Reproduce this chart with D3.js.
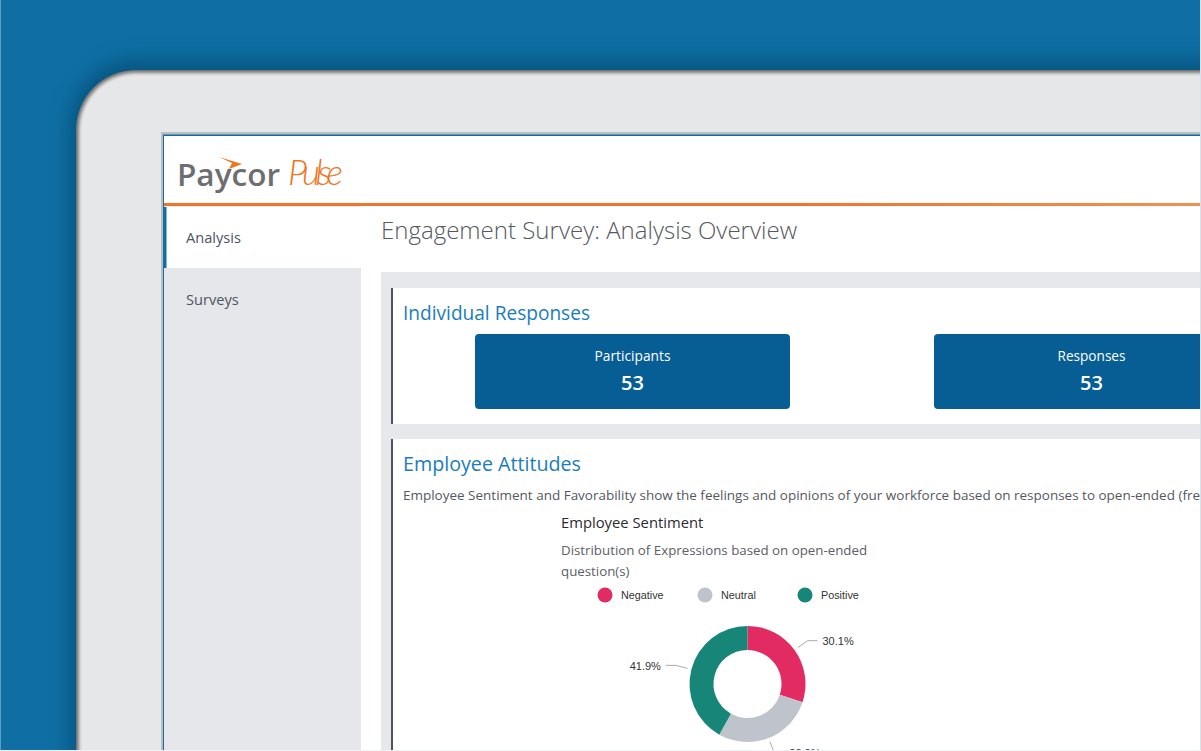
<!DOCTYPE html>
<html>
<head>
<meta charset="utf-8">
<script src="https://cdnjs.cloudflare.com/ajax/libs/d3/7.8.5/d3.min.js"></script>
<style>
  html, body { margin: 0; padding: 0; background: #0f6fa4; overflow: hidden; }
  svg { display: block; }
  text { font-family: "Open Sans", sans-serif; }
</style>
</head>
<body>
<svg id="chart" width="1201" height="751"></svg>
<script>
const categories = ['Negative', 'Neutral', 'Positive'];
const sentimentValues = [30.1, 28.0, 41.9];
const sentimentColors = ['#e22b62', '#bfc3cc', '#178578'];
const navItems = ['Analysis', 'Surveys'];
const statLabels = ['Participants', 'Responses'];
const statValues = [53, 53];
const bezelEdge = ['#777779', '#8b8b8d', '#a2a3a5', '#bcbdbf', '#d2d3d5', '#dfe0e2', '#e6e7e9'];

const svg = d3.select('#chart');
const defs = svg.append('defs');

// background + device bezel
svg.append('rect').attr('width', 1201).attr('height', 751).attr('fill', '#0f6fa4');

const shadow = defs.append('filter').attr('id', 'bezelShadow')
  .attr('x', '-10%').attr('y', '-10%').attr('width', '120%').attr('height', '120%');
shadow.append('feGaussianBlur').attr('stdDeviation', 11);

const bezelPath = inset => {
  const x = 76 + inset, y = 70 + inset, r = 60 - inset;
  return `M${x},800V${y + r}A${r},${r} 0 0 1 ${x + r},${y}H1260V800Z`;
};
svg.append('path')
  .attr('d', 'M72,800V126A62,62 0 0 1 134,62H1260V800Z')
  .attr('fill', '#054468').attr('opacity', 0.7)
  .attr('filter', 'url(#bezelShadow)');

svg.selectAll('.edge').data(bezelEdge).enter().append('path')
  .attr('class', 'edge')
  .attr('d', (d, i) => bezelPath(i))
  .attr('fill', d => d);

// screen
svg.append('rect').attr('x', 161).attr('y', 132).attr('width', 1100).attr('height', 700).attr('fill', '#bcbdbf');
svg.append('rect').attr('x', 163).attr('y', 134.5).attr('width', 1100).attr('height', 700).attr('fill', '#0f6fa4');
svg.append('rect').attr('x', 164).attr('y', 136).attr('width', 1100).attr('height', 700).attr('fill', '#fff');

// logo
svg.append('text').attr('x', 177).attr('y', 186).attr('font-size', 30).attr('font-weight', 600)
  .attr('fill', '#6d6e71').attr('textLength', 103).attr('lengthAdjust', 'spacingAndGlyphs').text('Paycor');
svg.append('path').attr('d', 'M219,157L242,164L229,169L232,163Z').attr('fill', '#ee7623');
svg.append('text').attr('x', 288).attr('y', 185).attr('font-size', 35).attr('font-style', 'italic').attr('font-weight', 300)
  .style('font-family', 'Lato, sans-serif').attr('fill', '#ee7623')
  .attr('textLength', 55).attr('lengthAdjust', 'spacing').text('Pulse');

// header rule
const rule = defs.append('linearGradient').attr('id', 'rule');
rule.append('stop').attr('offset', '0.6').attr('stop-color', '#f0742a');
rule.append('stop').attr('offset', '1').attr('stop-color', '#f19054');
svg.append('rect').attr('x', 164).attr('y', 203).attr('width', 1037).attr('height', 3).attr('fill', 'url(#rule)');

// sidebar
svg.append('rect').attr('x', 164).attr('y', 206).attr('width', 197).attr('height', 545).attr('fill', '#e6e7ea');
svg.append('rect').attr('x', 164).attr('y', 207).attr('width', 197).attr('height', 61).attr('fill', '#fff');
svg.append('rect').attr('x', 164).attr('y', 207).attr('width', 2.5).attr('height', 61).attr('fill', '#0f6fa4');
svg.selectAll('.nav').data(navItems).enter().append('text')
  .attr('class', 'nav')
  .attr('x', 186)
  .attr('y', (d, i) => i === 0 ? 243 : 305)
  .attr('font-size', 14.6).attr('fill', '#4d5463').text(d => d);

// content panels
svg.append('text').attr('x', 381).attr('y', 239).attr('font-size', 23.5).attr('font-weight', 300).attr('fill', '#55585f')
  .attr('textLength', 416).attr('lengthAdjust', 'spacingAndGlyphs')
  .text('Engagement Survey: Analysis Overview');
svg.append('rect').attr('x', 381).attr('y', 272).attr('width', 830).attr('height', 490).attr('fill', '#e7e8ec');
svg.append('rect').attr('x', 391).attr('y', 288).attr('width', 820).attr('height', 136).attr('fill', '#fff');
svg.append('rect').attr('x', 391).attr('y', 288).attr('width', 2).attr('height', 136).attr('fill', '#4d5162');
svg.append('rect').attr('x', 391).attr('y', 439).attr('width', 820).attr('height', 320).attr('fill', '#fff');
svg.append('rect').attr('x', 391).attr('y', 439).attr('width', 2).attr('height', 320).attr('fill', '#4d5162');

svg.append('text').attr('x', 403).attr('y', 320).attr('font-size', 20).attr('fill', '#1a7dbb')
  .attr('textLength', 187).attr('lengthAdjust', 'spacingAndGlyphs').text('Individual Responses');
svg.append('text').attr('x', 403).attr('y', 471).attr('font-size', 20).attr('fill', '#1a7dbb')
  .attr('textLength', 178).attr('lengthAdjust', 'spacingAndGlyphs').text('Employee Attitudes');
// the reference crops this sentence at the screen edge
svg.append('text').attr('x', 403).attr('y', 500).attr('font-size', 13.4).attr('fill', '#55585f')
  .attr('textLength', 797).attr('lengthAdjust', 'spacingAndGlyphs')
  .text('Employee Sentiment and Favorability show the feelings and opinions of your workforce based on responses to open-ended (fre');

// stat boxes
const statX = d3.scaleOrdinal().domain(statLabels).range([475, 934]);
const stats = svg.selectAll('.stat').data(statLabels).enter().append('g')
  .attr('class', 'stat').attr('transform', d => `translate(${statX(d)},334)`);
stats.append('rect').attr('width', 315).attr('height', 75).attr('rx', 4).attr('fill', '#075e94');
stats.append('text').attr('x', 157.5).attr('y', 27).attr('text-anchor', 'middle').attr('font-size', 14.5).attr('fill', '#fff')
  .attr('textLength', (d, i) => i === 0 ? 76 : 68).attr('lengthAdjust', 'spacingAndGlyphs').text(d => d);
stats.append('text').attr('x', 157.5).attr('y', 56).attr('text-anchor', 'middle').attr('font-size', 20).attr('font-weight', 600).attr('fill', '#fff')
  .text((d, i) => statValues[i]);

// chart titles
svg.append('text').attr('x', 561).attr('y', 528).attr('font-size', 14.8).attr('fill', '#2a2a33').text('Employee Sentiment');
svg.append('text').attr('x', 561).attr('y', 555).attr('font-size', 13.3).attr('fill', '#5c6068').text('Distribution of Expressions based on open-ended');
svg.append('text').attr('x', 561).attr('y', 576).attr('font-size', 13.3).attr('fill', '#5c6068').text('question(s)');

// legend
const legendX = d3.scalePoint().domain(categories).range([605, 805]);
const colorScale = d3.scaleOrdinal().domain(categories).range(sentimentColors);
const legend = svg.selectAll('.legend').data(categories).enter().append('g')
  .attr('class', 'legend').attr('transform', d => `translate(${legendX(d)},595)`);
legend.append('circle').attr('r', 7.5).attr('fill', d => colorScale(d));
legend.append('text').attr('x', 16).attr('y', 4).attr('font-size', 10.8)
  .style('font-family', '"Liberation Sans", sans-serif').attr('fill', '#333').text(d => d);

// donut
const cx = 747.5, cy = 684, outerR = 58, innerR = 34;
const pie = d3.pie().sort(null)(sentimentValues);
const arc = d3.arc().innerRadius(innerR).outerRadius(outerR);
const donut = svg.append('g').attr('transform', `translate(${cx},${cy})`);
donut.selectAll('path').data(pie).enter().append('path')
  .attr('d', arc).attr('fill', (d, i) => sentimentColors[i]);

// callouts: leader leaves the ring on the slice's mid angle, then runs flat to the label
const outerPoint = (d, r) => {
  const a = (d.startAngle + d.endAngle) / 2;
  return [Math.sin(a) * r, -Math.cos(a) * r];
};
pie.forEach(d => {
  const p0 = outerPoint(d, outerR + 4);
  const p1 = outerPoint(d, outerR + 16);
  const side = p0[0] >= 0 ? 1 : -1;
  const p2 = [p1[0] + side * 10, p1[1]];
  donut.append('path')
    .attr('d', d3.line()([p0, p1, p2]))
    .attr('fill', 'none').attr('stroke', '#aaa').attr('stroke-width', 1);
  donut.append('text')
    .attr('x', p2[0] + side * 5).attr('y', p2[1] + 4.5)
    .attr('text-anchor', side > 0 ? 'start' : 'end')
    .attr('font-size', 11).style('font-family', '"Liberation Sans", sans-serif').attr('fill', '#333')
    .text(d.value.toFixed(1) + '%');
});

// pale hairlines at the image border
svg.append('rect').attr('x', 0).attr('y', 0).attr('width', 1).attr('height', 751).attr('fill', '#5f9fc4');
svg.append('rect').attr('x', 1200).attr('y', 0).attr('width', 1).attr('height', 751).attr('fill', '#d5e3ec');
svg.append('rect').attr('x', 0).attr('y', 750).attr('width', 1201).attr('height', 1).attr('fill', '#eef2f5');
</script>
</body>
</html>
